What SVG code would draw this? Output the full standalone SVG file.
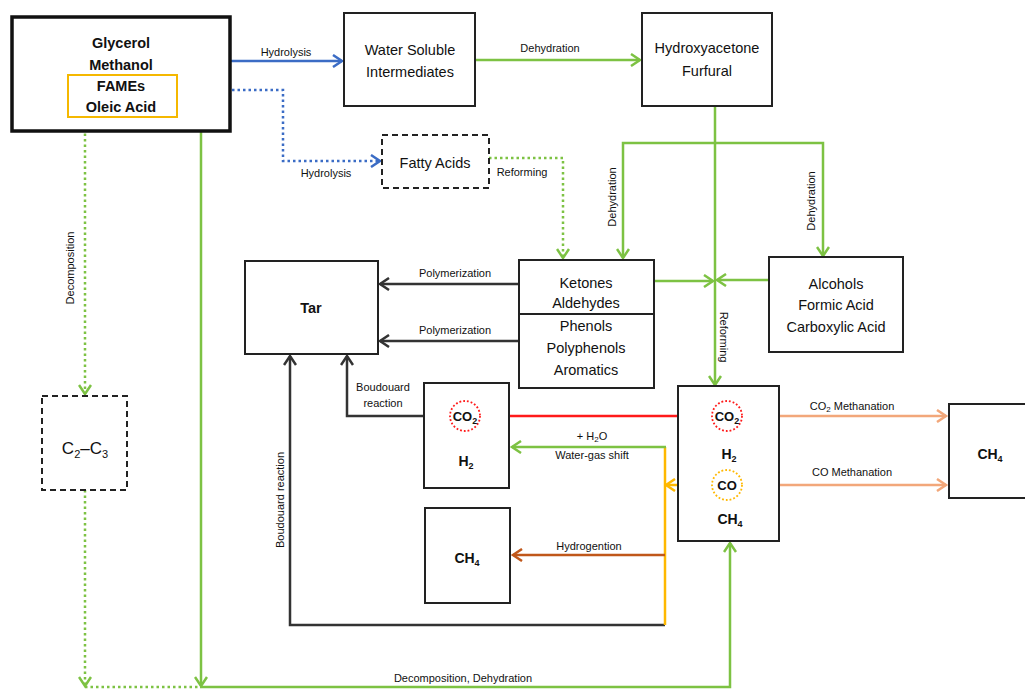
<svg xmlns="http://www.w3.org/2000/svg" width="1025" height="689" viewBox="0 0 1025 689">
<style>
text{font-family:"Liberation Sans",Arial,sans-serif;fill:#111}
.t{font-size:14.5px;text-anchor:middle}
.b{font-size:14.5px;font-weight:bold;text-anchor:middle}
.l{font-size:11px;text-anchor:middle}
.box{fill:#fff;stroke:#222;stroke-width:2}
.dash{fill:#fff;stroke:#222;stroke-width:2;stroke-dasharray:6,4}
.c{fill:none;stroke-width:2.5}
.blue{stroke:#3B6CC5}
.green{stroke:#7DC243}
.dk{stroke:#333}
.red{stroke:#FF1A1A}
.sal{stroke:#F2A77A}
.org{stroke:#FFB800}
.brn{stroke:#C0571A}
</style>
<defs>
<marker id="ab" markerUnits="userSpaceOnUse" markerWidth="14" markerHeight="14" refX="11" refY="7" orient="auto"><path d="M2,1 L11,7 L2,13" fill="none" stroke="#3B6CC5" stroke-width="2.5"/></marker>
<marker id="ag" markerUnits="userSpaceOnUse" markerWidth="14" markerHeight="14" refX="11" refY="7" orient="auto"><path d="M2,1 L11,7 L2,13" fill="none" stroke="#7DC243" stroke-width="2.5"/></marker>
<marker id="ad" markerUnits="userSpaceOnUse" markerWidth="14" markerHeight="14" refX="11" refY="7" orient="auto"><path d="M2,1 L11,7 L2,13" fill="none" stroke="#333" stroke-width="2.5"/></marker>
<marker id="as" markerUnits="userSpaceOnUse" markerWidth="14" markerHeight="14" refX="11" refY="7" orient="auto"><path d="M2,1 L11,7 L2,13" fill="none" stroke="#F2A77A" stroke-width="2.5"/></marker>
<marker id="ao" markerUnits="userSpaceOnUse" markerWidth="14" markerHeight="14" refX="11" refY="7" orient="auto"><path d="M2,1 L11,7 L2,13" fill="none" stroke="#FFB800" stroke-width="2.5"/></marker>
<marker id="an" markerUnits="userSpaceOnUse" markerWidth="14" markerHeight="14" refX="11" refY="7" orient="auto"><path d="M2,1 L11,7 L2,13" fill="none" stroke="#C0571A" stroke-width="2.5"/></marker>
</defs>
<rect width="1025" height="689" fill="#fff"/>

<g id="connectors">
<path class="c blue" d="M230,61 H342" marker-end="url(#ab)"/>
<path class="c blue" d="M177,90 H283 V161 H380" stroke-dasharray="2.5,3" marker-end="url(#ab)"/>
<path class="c green" d="M475,60 H640" marker-end="url(#ag)"/>
<path class="c green" d="M489,158 H563 V258" stroke-dasharray="2.5,3" marker-end="url(#ag)"/>
<path class="c green" d="M715,106 V385" marker-end="url(#ag)"/>
<path class="c green" d="M715,143 H623 V258" marker-end="url(#ag)"/>
<path class="c green" d="M715,143 H823 V256" marker-end="url(#ag)"/>
<path class="c green" d="M654,281 H713" marker-end="url(#ag)"/>
<path class="c green" d="M769,280 H717" marker-end="url(#ag)"/>
<path class="c dk" d="M519,284 H380" marker-end="url(#ad)"/>
<path class="c dk" d="M519,341 H380" marker-end="url(#ad)"/>
<path class="c dk" d="M450,416 H347 V356" marker-end="url(#ad)"/>
<path class="c dk" d="M665,625 H290 V356" marker-end="url(#ad)"/>
<path class="c red" d="M480,416 H712"/>
<path class="c sal" d="M742,416 H946" marker-end="url(#as)"/>
<path class="c sal" d="M742,485 H946" marker-end="url(#as)"/>
<path class="c org" d="M665,447 V625"/>
<path class="c org" d="M712,485 H666" marker-end="url(#ao)"/>
<path class="c green" d="M666,447 H512" marker-end="url(#ag)"/>
<path class="c brn" d="M665,555 H513" marker-end="url(#an)"/>
<path class="c green" d="M85,117 V394" stroke-dasharray="2.5,3" marker-end="url(#ag)"/>
<path class="c green" d="M85,490 V686" stroke-dasharray="2.5,3" marker-end="url(#ag)"/>
<path class="c green" d="M85,687 H200" stroke-dasharray="2.5,3"/>
<path class="c green" d="M201,132 V686" marker-end="url(#ag)"/>
<path class="c green" d="M200,687 H730 V543" marker-end="url(#ag)"/>
<text class="l" x="286" y="56">Hydrolysis</text>
<text class="l" x="326" y="177">Hydrolysis</text>
<text class="l" x="550" y="52">Dehydration</text>
<text class="l" x="522" y="176">Reforming</text>
<text class="l" transform="translate(616,197) rotate(-90)">Dehydration</text>
<text class="l" transform="translate(815,201) rotate(-90)">Dehydration</text>
<text class="l" transform="translate(720,337) rotate(90)">Reforming</text>
<text class="l" x="455" y="277">Polymerization</text>
<text class="l" x="455" y="334">Polymerization</text>
<text class="l" x="383" y="391">Boudouard</text>
<text class="l" x="383" y="407">reaction</text>
<text class="l" transform="translate(284,500) rotate(-90)">Boudouard reaction</text>
<text class="l" transform="translate(74,268) rotate(-90)">Decomposition</text>
<text class="l" x="592" y="440">+ H<tspan font-size="8" dy="2">2</tspan><tspan dy="-2">O</tspan></text>
<text class="l" x="592" y="459">Water-gas shift</text>
<text class="l" x="589" y="550">Hydrogention</text>
<text class="l" x="852" y="410">CO<tspan font-size="8" dy="2">2</tspan><tspan dy="-2">  Methanation</tspan></text>
<text class="l" x="852" y="476">CO Methanation</text>
<text class="l" x="463" y="682">Decomposition, Dehydration</text>
</g>

<g id="feed">
<rect x="12" y="17" width="218" height="114" fill="#fff" stroke="#111" stroke-width="3.5"/>
<rect x="68" y="75" width="109" height="42" fill="none" stroke="#F5B800" stroke-width="2"/>
<text class="b" x="121" y="48">Glycerol</text>
<text class="b" x="121" y="70">Methanol</text>
<text class="b" x="121" y="91">FAMEs</text>
<text class="b" x="121" y="112">Oleic Acid</text>
</g>
<g id="water-soluble">
<rect class="box" x="344" y="13" width="131" height="93"/>
<text class="t" x="410" y="55">Water Soluble</text>
<text class="t" x="410" y="77">Intermediates</text>
</g>
<g id="hydroxyacetone">
<rect class="box" x="642" y="13" width="130" height="93"/>
<text class="t" x="707" y="53">Hydroxyacetone</text>
<text class="t" x="707" y="76">Furfural</text>
</g>
<g id="fatty-acids">
<rect class="dash" x="382" y="135" width="107" height="53"/>
<text class="t" x="435" y="168">Fatty Acids</text>
</g>
<g id="ketones">
<rect class="box" x="519" y="260" width="135" height="128"/>
<line x1="519" y1="314" x2="654" y2="314" stroke="#222" stroke-width="2"/>
<text class="t" x="586" y="288">Ketones</text>
<text class="t" x="586" y="308">Aldehydes</text>
<text class="t" x="586" y="331">Phenols</text>
<text class="t" x="586" y="353">Polyphenols</text>
<text class="t" x="586" y="375">Aromatics</text>
</g>
<g id="alcohols">
<rect class="box" x="769" y="257" width="134" height="95"/>
<text class="t" x="836" y="289">Alcohols</text>
<text class="t" x="836" y="310">Formic Acid</text>
<text class="t" x="836" y="332">Carboxylic Acid</text>
</g>
<g id="tar">
<rect class="box" x="245" y="261" width="133" height="93"/>
<text class="b" x="311" y="313">Tar</text>
</g>
<g id="co2-h2">
<rect class="box" x="424" y="383" width="85" height="105"/>
<circle cx="465" cy="416" r="15" fill="#fff" stroke="#FF1A1A" stroke-width="1.8" stroke-dasharray="1.8,2"/>
<text x="465" y="421" font-size="13" font-weight="bold" text-anchor="middle">CO<tspan font-size="9" dy="3">2</tspan></text>
<text x="466" y="466" font-size="14" font-weight="bold" text-anchor="middle">H<tspan font-size="9" dy="3">2</tspan></text>
</g>
<g id="syngas">
<rect class="box" x="678" y="386" width="101" height="155"/>
<circle cx="727" cy="416" r="15" fill="#fff" stroke="#FF1A1A" stroke-width="1.8" stroke-dasharray="1.8,2"/>
<text x="727" y="421" font-size="13" font-weight="bold" text-anchor="middle">CO<tspan font-size="9" dy="3">2</tspan></text>
<text x="729" y="459" font-size="14" font-weight="bold" text-anchor="middle">H<tspan font-size="9" dy="3">2</tspan></text>
<circle cx="727" cy="485" r="15" fill="#fff" stroke="#FFB800" stroke-width="1.8" stroke-dasharray="1.8,2"/>
<text x="727" y="490" font-size="13" font-weight="bold" text-anchor="middle">CO</text>
<text x="730" y="524" font-size="14" font-weight="bold" text-anchor="middle">CH<tspan font-size="9" dy="3">4</tspan></text>
</g>
<g id="ch4-mid">
<rect class="box" x="425" y="508" width="85" height="95"/>
<text x="467" y="563" font-size="14" font-weight="bold" text-anchor="middle">CH<tspan font-size="9" dy="3">4</tspan></text>
</g>
<g id="ch4-right">
<rect class="box" x="949" y="404" width="80" height="94"/>
<text x="990" y="459" font-size="14" font-weight="bold" text-anchor="middle">CH<tspan font-size="9" dy="3">4</tspan></text>
</g>
<g id="c2c3">
<rect class="dash" x="42" y="396" width="85" height="94"/>
<text x="85" y="454" font-size="17" text-anchor="middle">C<tspan font-size="11" dy="4">2</tspan><tspan dy="-4">–C</tspan><tspan font-size="11" dy="4">3</tspan></text>
</g>
</svg>
